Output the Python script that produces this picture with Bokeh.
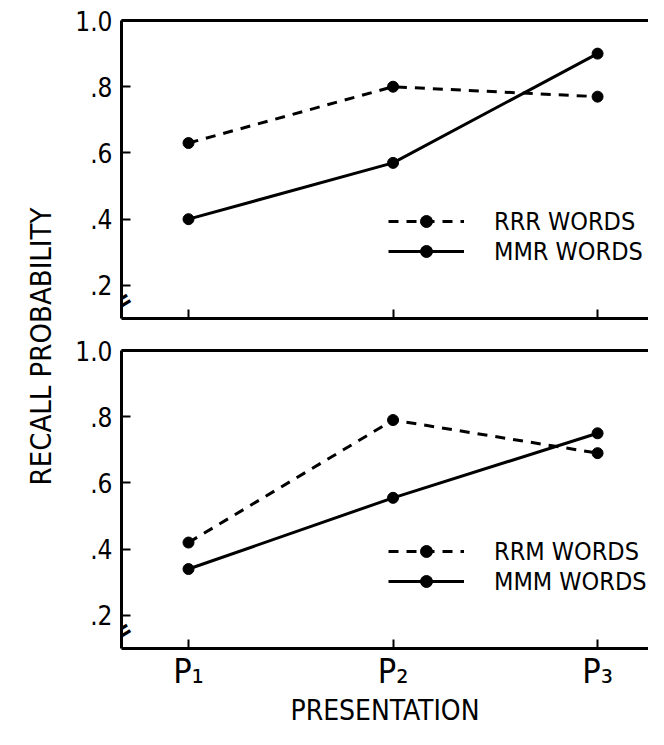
import math
from bokeh.plotting import figure
from bokeh.layouts import row, column
from bokeh.models import (Range1d, FixedTicker, LinearAxis, Legend, LegendItem, Label)
from bokeh.embed import file_html
from bokeh.resources import INLINE

# ---- data ----
presentations = [1, 2, 3]
presentation_labels = ["P\u2081", "P\u2082", "P\u2083"]
rrr_words = [0.63, 0.80, 0.77]
mmr_words = [0.40, 0.57, 0.90]
rrm_words = [0.42, 0.79, 0.69]
mmm_words = [0.34, 0.555, 0.75]
y_ticks = [0.2, 0.4, 0.6, 0.8, 1.0]
y_tick_labels = [".2", ".4", ".6", ".8", "1.0"]

FONT = "DejaVu Sans Condensed, Liberation Sans Narrow, DejaVu Sans, sans-serif"
X_START, X_END = 0.6724, 3.249
Y_START, Y_END = 0.1, 1.0


def style_axis(ax, size):
    ax.axis_line_width = 3
    ax.axis_line_color = "black"
    ax.major_tick_in = 9
    ax.major_tick_out = 0
    ax.major_tick_line_width = 2
    ax.major_tick_line_color = "black"
    ax.minor_tick_line_color = None
    ax.major_label_text_font = FONT
    ax.major_label_text_font_size = size
    ax.major_label_text_color = "black"


def panel(height, border_top, border_bottom, dashed, solid, dashed_label,
          solid_label, bottom_labels):
    p = figure(width=588, height=height, output_backend="svg",
               toolbar_location=None,
               x_range=Range1d(X_START, X_END), y_range=Range1d(Y_START, Y_END),
               min_border_left=61, min_border_right=0,
               min_border_top=border_top, min_border_bottom=border_bottom,
               x_axis_location=None, y_axis_location=None)
    p.outline_line_color = None
    p.xgrid.visible = False
    p.ygrid.visible = False

    yax = LinearAxis(ticker=FixedTicker(ticks=y_ticks),
                     major_label_overrides={t: l for t, l in zip(y_ticks, y_tick_labels)})
    style_axis(yax, "26px")
    yax.major_label_standoff = 9
    p.add_layout(yax, "left")

    if bottom_labels:
        xax = LinearAxis(ticker=FixedTicker(ticks=presentations),
                         major_label_overrides={t: l for t, l in zip(presentations, presentation_labels)})
        style_axis(xax, "34px")
        xax.major_label_standoff = 2
        xax.axis_label = "PRESENTATION"
        xax.axis_label_text_font = FONT
        xax.axis_label_text_font_size = "28px"
        xax.axis_label_text_font_style = "normal"
        xax.axis_label_text_color = "black"
        xax.axis_label_standoff = 0
    else:
        xax = LinearAxis(ticker=FixedTicker(ticks=presentations),
                         major_label_overrides={t: "" for t in presentations})
        style_axis(xax, "1px")
        xax.major_label_standoff = 0
    p.add_layout(xax, "below")

    top = LinearAxis(ticker=FixedTicker(ticks=[]))
    style_axis(top, "10px")
    top.major_label_standoff = 0
    p.add_layout(top, "above")

    dl = p.line(presentations, dashed, line_width=3, color="black", line_dash="10 8")
    dp = p.scatter(presentations, dashed, size=11, color="black")
    sl = p.line(presentations, solid, line_width=3, color="black")
    sp = p.scatter(presentations, solid, size=11, color="black")

    legend = Legend(items=[LegendItem(label=dashed_label, renderers=[dl, dp]),
                           LegendItem(label=solid_label, renderers=[sl, sp])],
                    location=(267, 52), padding=0, margin=0, spacing=0,
                    glyph_width=76, glyph_height=30, label_height=30,
                    label_standoff=30, label_text_font=FONT,
                    label_text_font_size="25px", label_text_color="black",
                    border_line_color=None, background_fill_alpha=0)
    p.add_layout(legend)

    # axis-break mark (double slash) where the y axis is broken
    brk = Label(x=X_START, y=0.152, text="=", angle=0.55, text_align="center",
                text_baseline="middle", text_font=FONT, text_font_size="28px",
                text_font_style="bold", text_color="black")
    p.add_layout(brk)
    return p


top_panel = panel(322, 20, 4, rrr_words, mmr_words, "RRR WORDS", "MMR WORDS", False)
bottom_panel = panel(407, 28, 78, rrm_words, mmm_words, "RRM WORDS", "MMM WORDS", True)

label_fig = figure(width=60, height=729, output_backend="svg", toolbar_location=None,
                   x_axis_location=None, y_axis_location=None,
                   min_border_left=0, min_border_right=0, min_border_top=0,
                   min_border_bottom=0)
label_fig.outline_line_color = None
label_fig.xgrid.visible = False
label_fig.ygrid.visible = False
label_fig.add_layout(Label(x=40, y=383, x_units="screen", y_units="screen",
                           text="RECALL PROBABILITY", angle=math.pi / 2,
                           text_align="center", text_baseline="middle",
                           text_font=FONT, text_font_size="29px",
                           text_color="black"))

layout = row(label_fig, column(top_panel, bottom_panel))
open("out.html", "w").write(file_html(layout, INLINE))
